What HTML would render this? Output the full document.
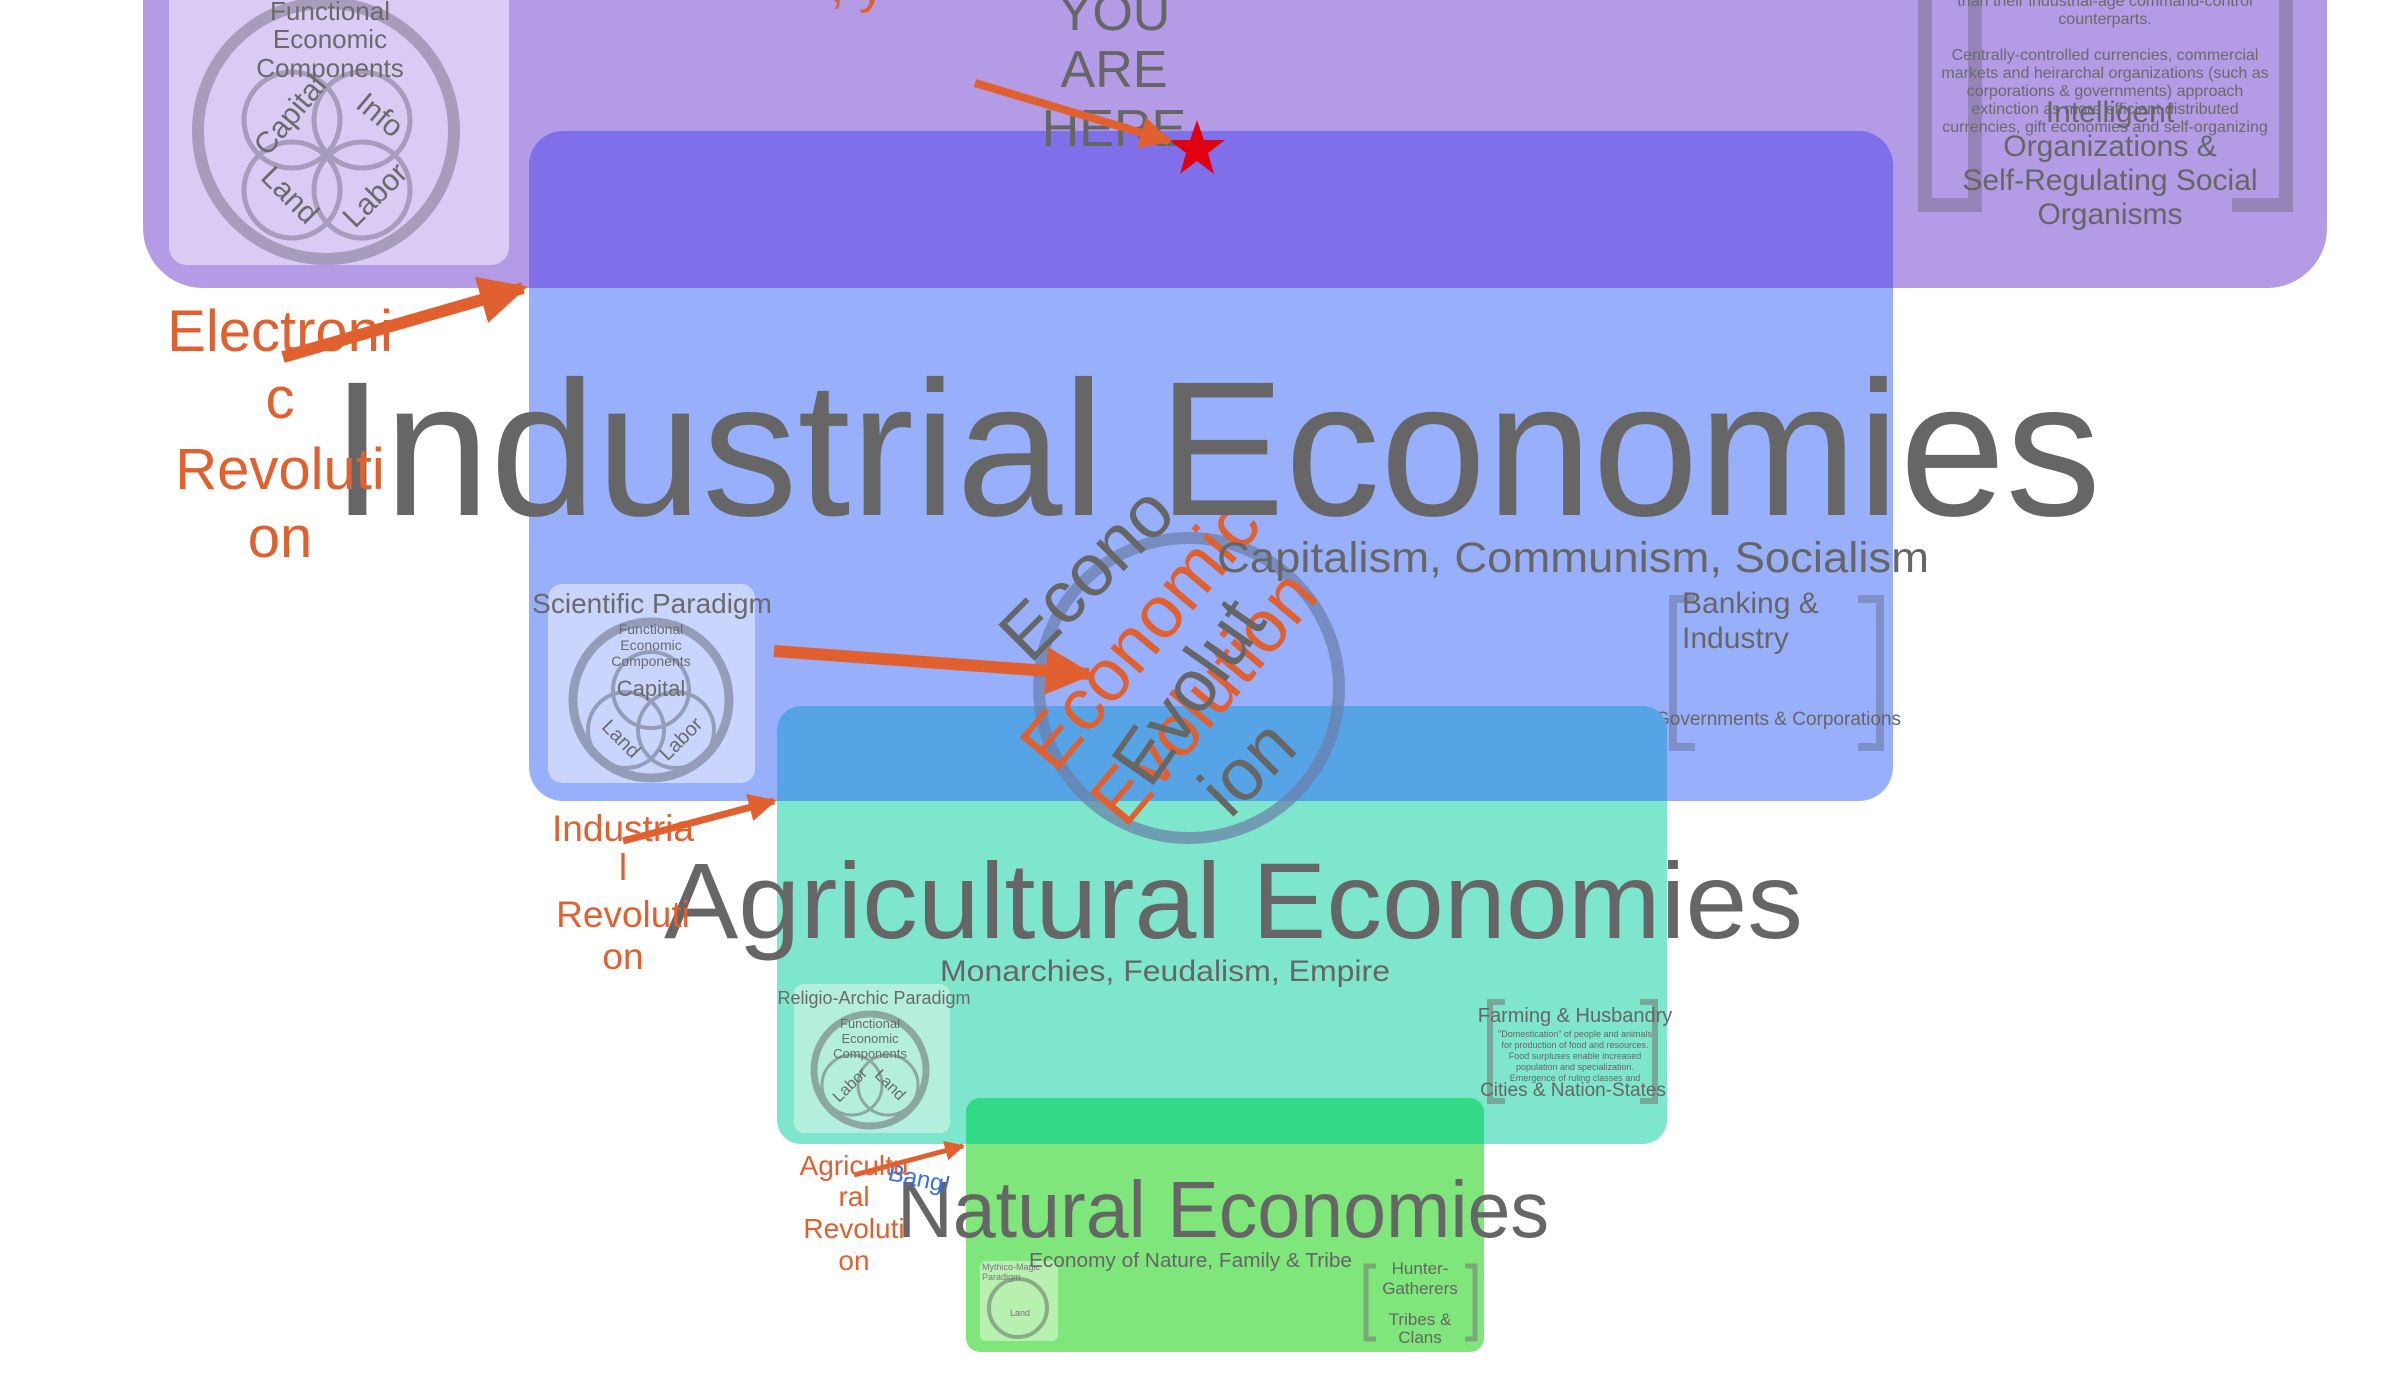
<!DOCTYPE html>
<html><head><meta charset="utf-8"><style>
html,body{margin:0;padding:0;background:#fff;}
svg{display:block;font-family:"Liberation Sans",sans-serif;}
</style></head><body>
<svg width="2400" height="1395" viewBox="0 0 2400 1395">
<!-- Purple Information tier -->
<rect x="143" y="-100" width="2184" height="388" rx="60" fill="#b39be6"/>
<rect x="169" y="-20" width="340" height="285" rx="18" fill="#d9cbf4"/>
<g fill="none" stroke="#a89cbc">
<circle cx="326" cy="131" r="128" stroke-width="12"/>
<circle cx="292" cy="120" r="48" stroke-width="5"/><circle cx="362" cy="120" r="48" stroke-width="5"/>
<circle cx="292" cy="190" r="48" stroke-width="5"/><circle cx="362" cy="190" r="48" stroke-width="5"/>
</g>
<g fill="#6a6a6a" font-size="26" text-anchor="middle">
<text x="330" y="20">Functional</text><text x="330" y="48">Economic</text><text x="330" y="77">Components</text>
<text x="290" y="125" transform="rotate(-50 290 115)" font-size="30">Capital</text>
<text x="380" y="125" transform="rotate(40 380 115)" font-size="30">Info</text>
<text x="290" y="205" transform="rotate(45 290 195)" font-size="30">Land</text>
<text x="375" y="205" transform="rotate(-45 375 195)" font-size="30">Labor</text>
</g>
<!-- Intelligent bracket -->
<g stroke="#9484b8" stroke-width="14" fill="none">
<path d="M1975 0 V205 H1920 M1975 205"/><path d="M1925 -10 V205 H1975"/><path d="M2286 -10 V205 H2232"/>
</g>
<g fill="#6a6a6a" font-size="16" text-anchor="middle">
<text x="2105" y="6">than their industrial-age command-control</text><text x="2105" y="24">counterparts.</text>
<text x="2105" y="60">Centrally-controlled currencies, commercial</text><text x="2105" y="78">markets and heirarchal organizations (such as</text>
<text x="2105" y="96">corporations &amp; governments) approach</text><text x="2105" y="114">extinction as more efficient distributed</text>
<text x="2105" y="132">currencies, gift economies and self-organizing</text>
</g>
<g fill="#666" font-size="30" text-anchor="middle">
<text x="2110" y="122">Intelligent</text><text x="2110" y="156">Organizations &amp;</text><text x="2110" y="190">Self-Regulating Social</text><text x="2110" y="224">Organisms</text>
</g>
<!-- Industrial tier -->
<rect x="529" y="131" width="1364" height="670" rx="34" fill="#98b0fc"/>
<path d="M563 131 H1859 A34 34 0 0 1 1893 165 V288 H529 V165 A34 34 0 0 1 563 131Z" fill="#7f6fe8"/>
<rect x="548" y="584" width="207" height="199" rx="14" fill="#c9d5fd"/>
<g fill="none" stroke="#949cb8">
<circle cx="651" cy="700" r="78" stroke-width="9"/><circle cx="626" cy="730" r="38" stroke-width="4"/><circle cx="676" cy="730" r="38" stroke-width="4"/><circle cx="651" cy="690" r="38" stroke-width="4"/>
</g>
<g fill="#6a6a6a" text-anchor="middle">
<text x="652" y="613" font-size="28">Scientific Paradigm</text>
<text x="651" y="634" font-size="14">Functional</text><text x="651" y="650" font-size="14">Economic</text><text x="651" y="666" font-size="14">Components</text>
<text x="651" y="696" font-size="22">Capital</text>
<text x="620" y="745" font-size="20" transform="rotate(45 620 740)">Land</text><text x="682" y="745" font-size="20" transform="rotate(-45 682 740)">Labor</text>
</g>
<g stroke="#7f8fc8" stroke-width="8" fill="none">
<path d="M1695 599 H1673 V747 H1695"/><path d="M1858 599 H1880 V747 H1858"/>
</g>
<g fill="#666">
<text x="1682" y="613" font-size="30">Banking &amp;</text><text x="1682" y="648" font-size="30">Industry</text>
<text x="1778" y="725" font-size="19" text-anchor="middle">Governments &amp; Corporations</text>
</g>
<!-- Agricultural tier -->
<rect x="777" y="706" width="890" height="438" rx="24" fill="#7ee6cc"/>
<path d="M801 706 H1643 A24 24 0 0 1 1667 730 V801 H777 V730 A24 24 0 0 1 801 706Z" fill="#56a4e6"/>
<rect x="794" y="984" width="156" height="149" rx="10" fill="#b4eedd"/>
<g fill="none" stroke="#8aa8a0">
<circle cx="870" cy="1070" r="56" stroke-width="7"/><circle cx="852" cy="1085" r="30" stroke-width="3"/><circle cx="888" cy="1085" r="30" stroke-width="3"/>
</g>
<g fill="#6a6a6a" text-anchor="middle">
<text x="874" y="1004" font-size="18">Religio-Archic Paradigm</text>
<text x="870" y="1028" font-size="13">Functional</text><text x="870" y="1043" font-size="13">Economic</text><text x="870" y="1058" font-size="13">Components</text>
<text x="850" y="1090" font-size="16" transform="rotate(-45 850 1085)">Labor</text><text x="890" y="1090" font-size="16" transform="rotate(45 890 1085)">Land</text>
</g>
<g stroke="#7aa898" stroke-width="6" fill="none">
<path d="M1505 1002 H1490 V1101 H1505"/><path d="M1640 1002 H1655 V1101 H1640"/>
</g>
<g fill="#666" text-anchor="middle">
<text x="1575" y="1022" font-size="20">Farming &amp; Husbandry</text>
<text x="1575" y="1037" font-size="9">"Domestication" of people and animals</text><text x="1575" y="1048" font-size="9">for production of food and resources.</text>
<text x="1575" y="1059" font-size="9">Food surpluses enable increased</text><text x="1575" y="1070" font-size="9">population and specialization.</text>
<text x="1575" y="1081" font-size="9">Emergence of ruling classes and</text>
<text x="1573" y="1096" font-size="19">Cities &amp; Nation-States</text>
</g>
<!-- Natural tier -->
<rect x="966" y="1098" width="518" height="254" rx="14" fill="#7ee67a"/>
<path d="M980 1098 H1470 A14 14 0 0 1 1484 1112 V1144 H966 V1112 A14 14 0 0 1 980 1098Z" fill="#34d988"/>
<rect x="980" y="1261" width="78" height="80" rx="6" fill="#b8f0b0"/>
<circle cx="1018" cy="1308" r="29" fill="none" stroke="#8aaa88" stroke-width="4"/>
<g fill="#777" font-size="9"><text x="982" y="1270">Mythico-Magic</text><text x="982" y="1280">Paradigm</text><text x="1010" y="1316">Land</text></g>
<g stroke="#7aa878" stroke-width="5" fill="none">
<path d="M1376 1266 H1366 V1339 H1376"/><path d="M1465 1266 H1475 V1339 H1465"/>
</g>
<g fill="#666" text-anchor="middle" font-size="17">
<text x="1420" y="1274">Hunter-</text><text x="1420" y="1294">Gatherers</text><text x="1420" y="1325">Tribes &amp;</text><text x="1420" y="1343">Clans</text>
</g>
<!-- Economic evolution circle -->
<circle cx="1189" cy="688" r="150" fill="none" stroke="#6a7fa8" stroke-opacity="0.7" stroke-width="12"/>
<g font-size="74">
<text x="1030" y="665" fill="#666" transform="rotate(-45 1030 665)">Econo</text>
<text x="1055" y="775" fill="#e06030" transform="rotate(-50 1055 775)">Economic</text>
<text x="1125" y="830" fill="#e06030" transform="rotate(-50 1125 830)">Evolution</text>
<text x="1150" y="790" fill="#666" transform="rotate(-55 1150 790)">Evolut</text>
<text x="1230" y="820" fill="#666" transform="rotate(-45 1230 820)">ion</text>
</g>
<!-- Titles -->
<text x="331" y="515" font-size="192" fill="#666" textLength="1770" lengthAdjust="spacingAndGlyphs">Industrial Economies</text>
<text x="1217" y="572" font-size="43" fill="#666" textLength="712" lengthAdjust="spacingAndGlyphs">Capitalism, Communism, Socialism</text>
<text x="664" y="938" font-size="108" fill="#666" textLength="1139" lengthAdjust="spacingAndGlyphs">Agricultural Economies</text>
<text x="940" y="981" font-size="30" fill="#666" textLength="450" lengthAdjust="spacingAndGlyphs">Monarchies, Feudalism, Empire</text>
<text x="897" y="1237" font-size="80" fill="#666" textLength="652" lengthAdjust="spacingAndGlyphs">Natural Economies</text>
<text x="1029" y="1267" font-size="20" fill="#666" textLength="323" lengthAdjust="spacingAndGlyphs">Economy of Nature, Family &amp; Tribe</text>
<!-- Revolutions -->
<g fill="#e06030" text-anchor="middle" font-size="58">
<text x="280" y="351">Electroni</text><text x="280" y="418">c</text><text x="280" y="489">Revoluti</text><text x="280" y="557">on</text>
</g>
<g fill="#e06030" text-anchor="middle" font-size="37">
<text x="623" y="841">Industria</text><text x="623" y="880">l</text><text x="623" y="927">Revoluti</text><text x="623" y="969">on</text>
</g>
<g fill="#e06030" text-anchor="middle" font-size="28">
<text x="854" y="1175">Agricultu</text><text x="854" y="1206">ral</text><text x="854" y="1238">Revoluti</text><text x="854" y="1270">on</text>
</g>
<text x="888" y="1180" font-size="24" fill="#3a6ee8" transform="rotate(12 888 1175)">Bang!</text>
<g fill="#666" text-anchor="middle" font-size="52">
<text x="1114" y="30">YOU</text><text x="1114" y="87">ARE</text><text x="1114" y="146">HERE</text>
</g>
<text x="830" y="2" font-size="52" fill="#e06030">, y</text>
<polygon points="1197,120 1204,140 1225,140 1208,153 1214,174 1197,161 1180,174 1186,153 1169,140 1190,140" fill="#e00010"/>
<!-- Arrows -->
<defs><marker id="ah" viewBox="0 0 10 10" refX="9" refY="5" markerWidth="4" markerHeight="4" orient="auto"><path d="M0 0 L10 5 L0 10Z" fill="#e06030"/></marker></defs>
<g stroke="#e06030" fill="none" marker-end="url(#ah)">
<line x1="975" y1="83" x2="1169" y2="141" stroke-width="8"/>
<line x1="283" y1="357" x2="523" y2="288" stroke-width="12"/>
<line x1="623" y1="841" x2="774" y2="801" stroke-width="7"/>
<line x1="774" y1="651" x2="1089" y2="674" stroke-width="12"/>
<line x1="854" y1="1175" x2="963" y2="1146" stroke-width="5"/>
</g>
</svg>
</body></html>
